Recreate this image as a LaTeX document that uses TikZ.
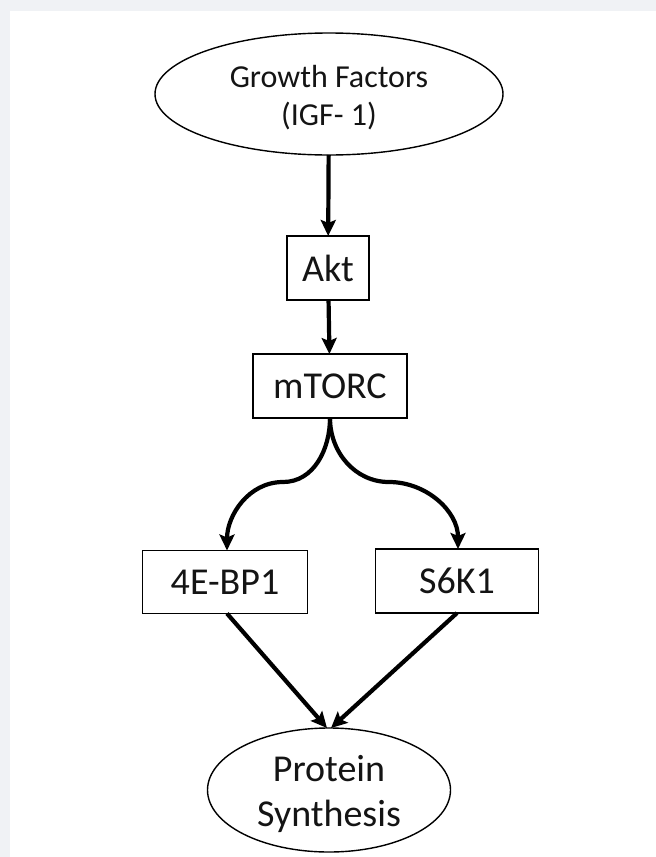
\documentclass[tikz,border=0pt]{standalone}
\usepackage{fontspec}
\setmainfont{Carlito}
\usetikzlibrary{shapes.geometric,arrows.meta}
\definecolor{pagebg}{HTML}{F0F2F5}
\definecolor{ink}{HTML}{141414}

\begin{document}
\begin{tikzpicture}[x=1pt,y=-1pt,
  oval/.style={draw,ellipse,line width=1.4pt,inner sep=0pt,outer sep=0pt},
  label text/.style={align=center,text=ink,inner sep=0pt},
  box/.style={draw,rectangle,line width=1.4pt,inner sep=0pt,outer sep=0pt,minimum height=64pt,text=ink,font=\fontsize{38}{45}\selectfont},
  link/.style={line width=4.2pt,-{Stealth[length=16pt,width=15pt,inset=3pt]}}]
\fill[pagebg] (0,0) rectangle (656,857);
\fill[white] (10,11) rectangle (656,857);
\useasboundingbox (0,0) rectangle (656,857);
\node[oval,minimum width=348pt,minimum height=122pt] (gf) at (329,94) {};
\node[label text,font=\fontsize{32}{38}\selectfont] (gftext) at (329,98) {Growth Factors\\(IGF- 1)};
\node[box,minimum width=82pt] (akt) at (328,268) {Akt};
\node[box,minimum width=154pt] (mtorc) at (330,386) {mTORC};
\node[box,minimum width=165pt,minimum height=63pt] (ebp) at (225,582) {4E-BP1};
\node[box,minimum width=163pt] (sk) at (457,581) {S6K1};
\node[oval,minimum width=243pt,minimum height=124pt] (prot) at (329,790) {};
\node[label text,font=\fontsize{38}{45}\selectfont] (prottext) at (329,794) {Protein\\Synthesis};
\coordinate (bendL) at (283,482);
\coordinate (bendR) at (389,482);
\draw[link] (gf) -- (akt);
\draw[link] (akt) -- (mtorc);
\draw[link] (mtorc.south) to[out=-90,in=0] (bendL) to[out=180,in=90] ([xshift=2pt]ebp.north);
\draw[link] (mtorc.south) to[out=-90,in=180] (bendR) to[out=0,in=90] ([xshift=1pt]sk.north);
\draw[link] ([xshift=2pt]ebp.south) -- ([xshift=-2pt]prot.north);
\draw[link] (sk.south) -- ([xshift=2pt]prot.north);
\end{tikzpicture}
\end{document}
